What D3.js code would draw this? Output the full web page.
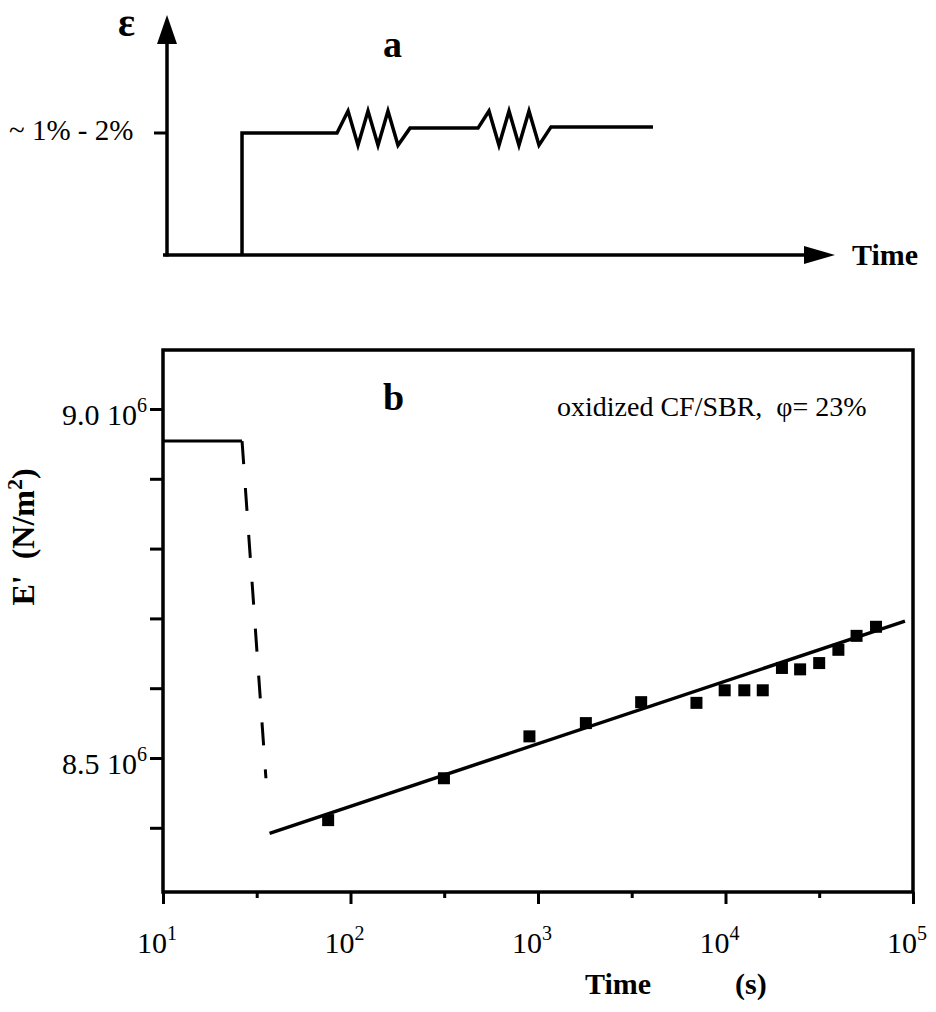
<!DOCTYPE html>
<html>
<head>
<meta charset="utf-8">
<script src="https://cdn.jsdelivr.net/npm/d3@7"></script>
<style>
  body { margin: 0; background: #fff; }
  svg { display: block; font-family: "Liberation Serif", "Times New Roman", serif; }
</style>
</head>
<body>
<svg></svg>
<script>
// panel b: measured points, time in s, E' in units of 10^6 N/m2
const times = [76, 315, 900, 1800, 3550, 7000, 9900, 12600, 15800, 20000, 25000, 31600, 40000, 50000, 63500];
const moduli = [8.411, 8.471, 8.531, 8.55, 8.58, 8.579, 8.597, 8.597, 8.597, 8.629, 8.627, 8.636, 8.655, 8.675, 8.688];

// fitted straight line (log time), only its two ends
const fitTimes = [37, 90600];
const fitModuli = [8.392, 8.696];

// modulus before the strain step, then the dashed drop
const stepTimes = [10, 26.4];
const stepModuli = [8.954, 8.954];
const dropTimes = [26.4, 35.4];
const dropModuli = [8.954, 8.471];

const xTickValues = [10, 100, 1000, 10000, 100000];
const xTickExponents = ["1", "2", "3", "4", "5"];
const xMinorTicks = [31.6, 316, 3160, 31600];
const yTickValues = [8.4, 8.5, 8.6, 8.7, 8.8, 8.9, 9.0];
const yLabelValues = [9.0, 8.5];
const yLabels = ["9.0", "8.5"];

// panel a: schematic strain history (arbitrary time, strain relative to the step level)
const strainTimes = [11.23, 11.23, 25.45, 27.1, 28.59, 30.09, 31.59, 33.08, 34.58, 36.38, 46.56, 48.2, 49.7, 51.2, 52.69, 54.19, 55.69, 57.49, 72.75];
const strainValues = [0, 1, 1, 1.18, 0.9, 1.18, 0.9, 1.18, 0.9, 1.04, 1.04, 1.18, 0.9, 1.18, 0.9, 1.18, 0.9, 1.05, 1.05];

const svg = d3.select("svg");

// prettier-ignore
svg
    .attr("width", 936)
    .attr("height", 1012);

svg.append("rect").attr("width", 936).attr("height", 1012).attr("fill", "#fff");

// ---------- panel a ----------
const xA = d3.scaleLinear().domain([0, 100]).range([167, 835]);
const yA = d3.scaleLinear().domain([0, 1]).range([255, 133]);

const panelA = svg.append("g");

// axes with arrow heads
panelA.append("line")
  .attr("x1", 167).attr("x2", 167)
  .attr("y1", yA(0) + 1.5).attr("y2", 40)
  .attr("stroke", "#000").attr("stroke-width", 3.5);
panelA.append("path")
  .attr("d", "M157,44 L167,15 L177,44 Z")
  .attr("fill", "#000");

panelA.append("line")
  .attr("x1", 163).attr("x2", 808)
  .attr("y1", yA(0)).attr("y2", yA(0))
  .attr("stroke", "#000").attr("stroke-width", 3.5);
panelA.append("path")
  .attr("d", `M804,${yA(0) - 9} L835,${yA(0)} L804,${yA(0) + 9} Z`)
  .attr("fill", "#000");

// level tick
panelA.append("line")
  .attr("x1", 154).attr("x2", 167)
  .attr("y1", yA(1)).attr("y2", yA(1))
  .attr("stroke", "#000").attr("stroke-width", 3);

const strainLine = d3.line()
  .x((d, i) => xA(strainTimes[i]))
  .y((d) => yA(d));

panelA.append("path")
  .datum(strainValues)
  .attr("d", strainLine)
  .attr("fill", "none")
  .attr("stroke", "#000")
  .attr("stroke-width", 3.5)
  .attr("stroke-linejoin", "miter");

panelA.append("text")
  .attr("x", 118).attr("y", 36)
  .attr("font-size", 40)
  .attr("font-weight", "bold")
  .text("ε");

panelA.append("text")
  .attr("x", 9).attr("y", 140)
  .attr("font-size", 29)
  .text("~ 1% - 2%");

panelA.append("text")
  .attr("x", 383).attr("y", 57)
  .attr("font-size", 38)
  .attr("font-weight", "bold")
  .text("a");

panelA.append("text")
  .attr("x", 852).attr("y", 265)
  .attr("font-size", 30)
  .attr("font-weight", "bold")
  .text("Time");

// ---------- panel b ----------
const x = d3.scaleLog().domain([10, 100000]).range([163, 913]);
const y = d3.scaleLinear().domain([8.5, 9.0]).range([758, 409]);

const frameTop = 350;
const frameBottom = 892;

const panelB = svg.append("g");

// y ticks
panelB.append("g")
  .attr("transform", `translate(${x.range()[0]},0)`)
  .call(d3.axisLeft(y).tickValues(yTickValues).tickSize(13).tickFormat(""))
  .call((g) => g.select(".domain").remove())
  .call((g) => g.selectAll("line").attr("stroke-width", 3));

// x ticks, major then minor
panelB.append("g")
  .attr("transform", `translate(0,${frameBottom})`)
  .call(d3.axisBottom(x).tickValues(xTickValues).tickSize(12).tickFormat(""))
  .call((g) => g.select(".domain").remove())
  .call((g) => g.selectAll("line").attr("stroke-width", 3));

panelB.append("g")
  .attr("transform", `translate(0,${frameBottom})`)
  .call(d3.axisBottom(x).tickValues(xMinorTicks).tickSize(6).tickFormat(""))
  .call((g) => g.select(".domain").remove())
  .call((g) => g.selectAll("line").attr("stroke-width", 3));

// frame
panelB.append("rect")
  .attr("x", x.range()[0])
  .attr("y", frameTop)
  .attr("width", x.range()[1] - x.range()[0])
  .attr("height", frameBottom - frameTop)
  .attr("fill", "none")
  .attr("stroke", "#000")
  .attr("stroke-width", 3.5);

// x tick labels: 10 with superscript exponent
const xLabels = panelB.selectAll("text.xlabel")
  .data(xTickValues)
  .enter()
  .append("text")
  .attr("class", "xlabel")
  .attr("x", (d) => x(d) - 6)
  .attr("y", 953)
  .attr("text-anchor", "middle")
  .attr("font-size", 30);
xLabels.append("tspan").text("10");
xLabels.append("tspan")
  .attr("dy", -13)
  .attr("font-size", 20)
  .text((d, i) => xTickExponents[i]);

// y tick labels
const yLab = panelB.selectAll("text.ylabel")
  .data(yLabelValues)
  .enter()
  .append("text")
  .attr("class", "ylabel")
  .attr("x", 147)
  .attr("y", (d) => y(d) + 16)
  .attr("text-anchor", "end")
  .attr("font-size", 30);
yLab.append("tspan").text((d, i) => yLabels[i] + " 10");
yLab.append("tspan")
  .attr("dy", -13)
  .attr("font-size", 20)
  .text("6");

// axis titles
const xTitle = panelB.append("text")
  .attr("y", 994)
  .attr("font-size", 30)
  .attr("font-weight", "bold");
xTitle.append("tspan").attr("x", 585).text("Time");
xTitle.append("tspan").attr("x", 735).text("(s)");

const yTitle = panelB.append("text")
  .attr("transform", "translate(34,537) rotate(-90)")
  .attr("text-anchor", "middle")
  .attr("font-size", 32)
  .attr("font-weight", "bold");
yTitle.append("tspan").text("E'\u00a0\u00a0(N/m");
yTitle.append("tspan").attr("dy", -12).attr("font-size", 22).text("2");
yTitle.append("tspan").attr("dy", 12).text(")");

panelB.append("text")
  .attr("x", 383).attr("y", 410)
  .attr("font-size", 38)
  .attr("font-weight", "bold")
  .text("b");

panelB.append("text")
  .attr("x", 557).attr("y", 416)
  .attr("font-size", 28)
  .text("oxidized CF/SBR,\u00a0\u00a0φ= 23%");

// level before the step and the dashed drop
const lineGen = d3.line()
  .x((d) => x(d[0]))
  .y((d) => y(d[1]));

panelB.append("path")
  .datum(stepTimes.map((t, i) => [t, stepModuli[i]]))
  .attr("d", lineGen)
  .attr("fill", "none")
  .attr("stroke", "#000")
  .attr("stroke-width", 3);

panelB.append("path")
  .datum(dropTimes.map((t, i) => [t, dropModuli[i]]))
  .attr("d", lineGen)
  .attr("fill", "none")
  .attr("stroke", "#000")
  .attr("stroke-width", 3)
  .attr("stroke-dasharray", "23,24");

// fitted line
panelB.append("path")
  .datum(fitTimes.map((t, i) => [t, fitModuli[i]]))
  .attr("d", lineGen)
  .attr("fill", "none")
  .attr("stroke", "#000")
  .attr("stroke-width", 3.5);

// data squares
panelB.selectAll("rect.point")
  .data(times)
  .enter()
  .append("rect")
  .attr("class", "point")
  .attr("x", (d) => x(d) - 6)
  .attr("y", (d, i) => y(moduli[i]) - 6)
  .attr("width", 12)
  .attr("height", 12)
  .attr("fill", "#000");
</script>
</body>
</html>
